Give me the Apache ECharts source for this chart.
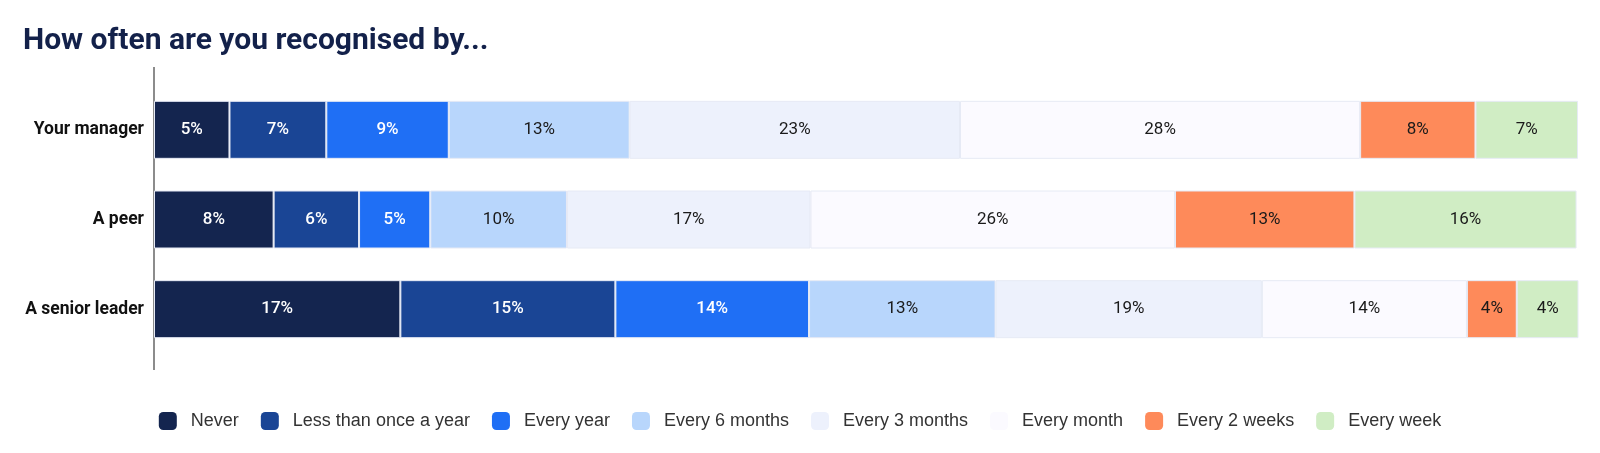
<!DOCTYPE html>
<html>
<head>
<meta charset="utf-8">
<script src="https://cdn.jsdelivr.net/npm/echarts@6/dist/echarts.min.js"></script>
<style>
html,body{margin:0;padding:0;background:#fff;}
#chart{width:1600px;height:453px;}
</style>
</head>
<body>
<div id="chart"></div>
<script>
var categories = ['Your manager', 'A peer', 'A senior leader'];
var seriesNames = ['Never', 'Less than once a year', 'Every year', 'Every 6 months', 'Every 3 months', 'Every month', 'Every 2 weeks', 'Every week'];
var never = [5.3, 8.4, 17.3];
var lessThanYearly = [6.8, 6.0, 15.1];
var everyYear = [8.6, 5.0, 13.6];
var every6Months = [12.7, 9.6, 13.1];
var every3Months = [23.2, 17.1, 18.7];
var everyMonth = [28.1, 25.6, 14.4];
var every2Weeks = [8.1, 12.6, 3.5];
var everyWeek = [7.2, 15.6, 4.4];
var seriesValues = [never, lessThanYearly, everyYear, every6Months, every3Months, everyMonth, every2Weeks, everyWeek];
var colors = ['#14254f', '#1a4595', '#1f6ff5', '#b8d6fc', '#edf1fc', '#fbfaff', '#fe8a5a', '#d0edc4'];
var labelColors = ['#ffffff', '#ffffff', '#ffffff', '#1a1a1a', '#1a1a1a', '#1a1a1a', '#1a1a1a', '#1a1a1a'];

var chart = echarts.init(document.getElementById('chart'));
var series = seriesNames.map(function (name, i) {
  return {
    name: name,
    type: 'bar',
    stack: 'total',
    barWidth: 58,
    data: seriesValues[i],
    itemStyle: { color: colors[i], borderColor: '#e6eaf5', borderWidth: 1 },
    label: {
      show: true,
      position: 'inside',
      color: labelColors[i],
      fontFamily: 'Roboto',
      fontWeight: i < 3 ? 500 : 'normal',
      fontSize: 17,
      formatter: function (p) { return Math.round(p.value) + '%'; }
    }
  };
});

chart.setOption({
  animation: false,
  backgroundColor: '#ffffff',
  color: colors,
  title: {
    text: 'How often are you recognised by...',
    left: 18,
    top: 21,
    textStyle: { fontFamily: 'Roboto', fontWeight: 'bold', fontSize: 30, color: '#13214a' }
  },
  grid: { left: 154, right: 22, top: 85, bottom: 99 },
  legend: {
    top: 407,
    left: 'center',
    itemWidth: 18,
    itemHeight: 18,
    itemGap: 22,
    icon: 'roundRect',
    itemStyle: { borderWidth: 0 },
    textStyle: { fontFamily: 'Liberation Sans', fontSize: 18, color: '#333333', padding: [0, 0, 0, 9] },
    data: seriesNames
  },
  xAxis: {
    type: 'value',
    min: 0,
    max: 100,
    show: false
  },
  yAxis: {
    type: 'category',
    data: categories,
    inverse: true,
    axisLine: { show: false },
    axisTick: { show: false },
    axisLabel: { fontFamily: 'Roboto', fontWeight: 'bold', fontSize: 17.5, color: '#111111', margin: 10 }
  },
  graphic: [{
    type: 'line',
    shape: { x1: 154, y1: 67, x2: 154, y2: 370 },
    style: { stroke: '#666666', lineWidth: 1.5 }
  }],
  series: series
});
</script>
</body>
</html>
